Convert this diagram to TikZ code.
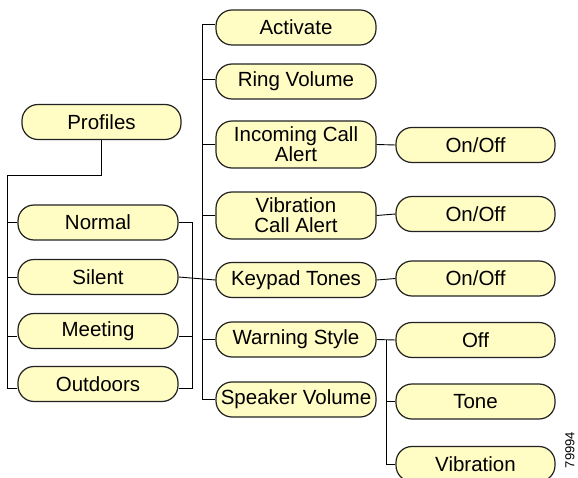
\documentclass[tikz,border=0pt]{standalone}
\usepackage{fontspec}
\setmainfont{Liberation Sans}
\definecolor{boxfill}{HTML}{FFFCC4}
\definecolor{edge}{HTML}{222222}
\tikzset{
  box/.style={draw=edge, line width=1.2pt, fill=boxfill, rounded corners=16pt,
    minimum width=160pt, minimum height=35pt, inner sep=0pt, align=center,
    font=\fontsize{20.5}{20}\selectfont},
  tall/.style={minimum height=47pt},
  link/.style={draw=black, line width=0.9pt}
}
\begin{document}
\begin{tikzpicture}[x=1pt,y=-1pt]
\useasboundingbox (0,0) rectangle (578,478);
% left column
\node[box, minimum width=159pt] (profiles) at (101.5,122) {Profiles};
\node[box] (normal)   at (98,222.5) {Normal};
\node[box] (silent)   at (98,277)   {Silent};
\node[box] (meeting)  at (98,331)   {Meeting};
\node[box] (outdoors) at (98,384)   {Outdoors};
% middle column
\node[box] (activate) at (296,27.5)  {Activate};
\node[box] (ring)     at (296,81.5)  {Ring Volume};
\node[box,tall] (incoming) at (296,144.5) {Incoming Call\\Alert};
\node[box,tall] (vibca)    at (296,215.5) {Vibration\\Call Alert};
\node[box] (keypad)   at (296,280)   {Keypad Tones};
\node[box] (warning)  at (296,339.5) {Warning Style};
\node[box] (speaker)  at (296,399.5) {Speaker Volume};
% right column
\node[box, minimum width=159pt] (on1)  at (475.5,145)   {On/Off};
\node[box, minimum width=159pt] (on2)  at (475.5,214)   {On/Off};
\node[box, minimum width=159pt] (on3)  at (475.5,278.5) {On/Off};
\node[box, minimum width=159pt] (off)  at (475.5,340)   {Off};
\node[box, minimum width=159pt] (tone) at (475.5,401.5) {Tone};
\node[box, minimum width=159pt] (vib)  at (475.5,464)   {Vibration};
\node[rotate=90, font=\fontsize{13}{13}\selectfont] (num) at (570,450) {79994};
% connectors left
\coordinate (ltop) at (7,175);
\draw[link] (profiles.south) |- (ltop) |- ([yshift=-4pt]outdoors.west);
\draw[link] (normal.west) -- (normal.west -| ltop);
\draw[link] (silent.west) -- (silent.west -| ltop);
\draw[link] ([yshift=-5pt]meeting.west) -- ([yshift=-5pt]meeting.west -| ltop);
\coordinate (lb) at (192,222.5);
\draw[link] (normal.east) -- (lb) |- ([yshift=-4pt]outdoors.east);
\draw[link] ([yshift=-5pt]meeting.east) -- ([yshift=-5pt]meeting.east -| lb);
\draw[link] (silent.east) -- (keypad.west);
% middle trunk
\coordinate (mtb) at (202,399.5);
\draw[link] ([yshift=3pt]activate.west) -| (mtb) -- (speaker.west);
\draw[link] ([yshift=2pt]ring.west) -- ([yshift=2pt]ring.west -| mtb);
\draw[link] (incoming.west) -- (incoming.west -| mtb);
\draw[link] (vibca.west) -- (vibca.west -| mtb);
\draw[link] (warning.west) -- (warning.west -| mtb);
% right connectors
\draw[link] (incoming.east) -- (on1.west);
\draw[link] (vibca.east) -- (on2.west);
\draw[link] (keypad.east) -- (on3.west);
\draw[link] (warning.east) -- (off.west);
\coordinate (rt) at (386,339.5);
\draw[link] (rt) |- (vib.west);
\draw[link] (tone.west) -- (tone.west -| rt);
\end{tikzpicture}
\end{document}
